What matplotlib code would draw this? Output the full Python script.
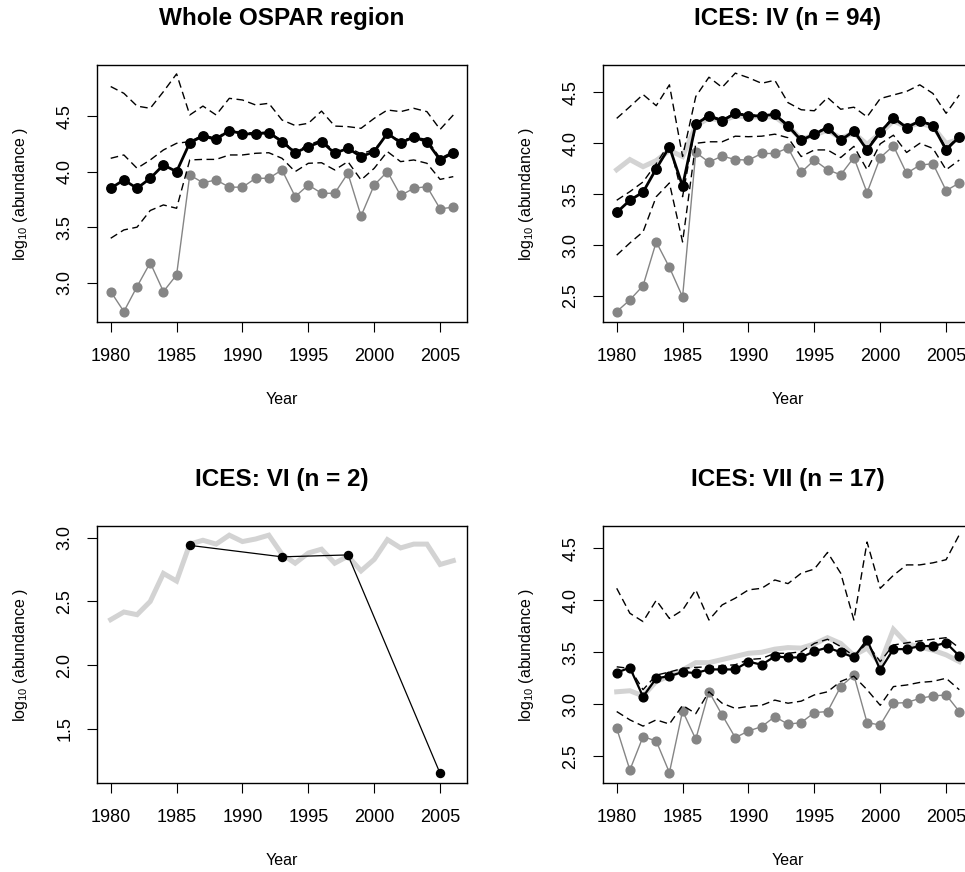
import matplotlib
matplotlib.use('Agg')
import matplotlib.pyplot as plt
import numpy as np

plt.rcParams['font.family'] = ['Liberation Sans', 'DejaVu Sans']
plt.rcParams['mathtext.fontset'] = 'custom'
plt.rcParams['mathtext.rm'] = 'Liberation Sans'
plt.rcParams['mathtext.it'] = 'Liberation Sans:italic'

years = list(range(1980, 2007))
xticks = [1980, 1985, 1990, 1995, 2000, 2005]

# Whole OSPAR region
p1_mean = [3.85, 3.925, 3.85, 3.94, 4.06, 4.00, 4.26, 4.32, 4.29, 4.37, 4.34, 4.34, 4.35, 4.27,
           4.17, 4.225, 4.27, 4.165, 4.21, 4.135, 4.18, 4.345, 4.26, 4.31, 4.27, 4.105, 4.17]
p1_min = [2.92, 2.74, 2.965, 3.18, 2.92, 3.07, 3.97, 3.90, 3.925, 3.86, 3.86, 3.94, 3.94, 4.015,
          3.775, 3.88, 3.805, 3.805, 3.985, 3.60, 3.88, 4.0, 3.785, 3.85, 3.865, 3.665, 3.68]
p1_upper = [4.766, 4.705, 4.59, 4.57, 4.72, 4.88, 4.51, 4.59, 4.51, 4.66, 4.645, 4.60, 4.615, 4.465,
            4.415, 4.435, 4.545, 4.41, 4.405, 4.39, 4.48, 4.555, 4.54, 4.57, 4.54, 4.38, 4.51]
p1_mid = [4.12, 4.15, 4.03, 4.105, 4.195, 4.255, 4.27, 4.33, 4.30, 4.38, 4.35, 4.35, 4.355, 4.28,
          4.18, 4.24, 4.285, 4.18, 4.22, 4.16, 4.20, 4.33, 4.28, 4.31, 4.29, 4.12, 4.18]
p1_lower = [3.40, 3.475, 3.50, 3.65, 3.70, 3.67, 4.105, 4.11, 4.11, 4.15, 4.15, 4.165, 4.17, 4.12,
            4.0, 4.075, 4.08, 4.015, 4.09, 3.925, 4.03, 4.18, 4.09, 4.105, 4.075, 3.93, 3.955]

# ICES: IV
p2_mean = [3.32, 3.44, 3.52, 3.75, 3.965, 3.58, 4.19, 4.27, 4.22, 4.295, 4.27, 4.27, 4.285, 4.17,
           4.03, 4.09, 4.155, 4.03, 4.12, 3.935, 4.11, 4.25, 4.155, 4.22, 4.175, 3.935, 4.065]
p2_min = [2.345, 2.46, 2.60, 3.03, 2.78, 2.49, 3.91, 3.815, 3.875, 3.84, 3.835, 3.90, 3.90, 3.955,
          3.715, 3.835, 3.74, 3.69, 3.86, 3.515, 3.86, 3.975, 3.705, 3.785, 3.80, 3.535, 3.61]
p2_fit = [3.74, 3.84, 3.77, 3.83, 3.93, 3.87, 4.17, 4.25, 4.22, 4.27, 4.26, 4.26, 4.26, 4.17,
          4.04, 4.08, 4.13, 4.05, 4.10, 3.99, 4.10, 4.22, 4.16, 4.20, 4.16, 4.00, 4.04]
p2_upper = [4.245, 4.36, 4.48, 4.37, 4.575, 3.87, 4.46, 4.65, 4.55, 4.69, 4.645, 4.59, 4.62, 4.40,
            4.33, 4.32, 4.45, 4.335, 4.355, 4.26, 4.44, 4.475, 4.51, 4.575, 4.49, 4.295, 4.475]
p2_mid = [3.44, 3.525, 3.62, 3.80, 4.0, 3.475, 4.20, 4.28, 4.23, 4.30, 4.28, 4.275, 4.29, 4.18,
          4.04, 4.10, 4.16, 4.04, 4.13, 3.95, 4.12, 4.26, 4.16, 4.23, 4.18, 3.95, 4.07]
p2_lower = [2.90, 3.02, 3.13, 3.475, 3.61, 3.03, 4.0, 4.015, 4.015, 4.07, 4.065, 4.07, 4.09, 4.055,
            3.87, 3.935, 3.935, 3.86, 3.97, 3.74, 3.995, 4.08, 3.91, 4.0, 3.95, 3.74, 3.835]

# ICES: VI
p3_years = [1986, 1993, 1998, 2005]
p3_mean = [2.94, 2.85, 2.865, 1.15]
p3_fit = [2.357, 2.417, 2.396, 2.50, 2.72, 2.66, 2.95, 2.98, 2.95, 3.02, 2.97, 2.99, 3.02, 2.87,
          2.80, 2.88, 2.91, 2.80, 2.855, 2.74, 2.83, 2.985, 2.92, 2.95, 2.95, 2.79, 2.82]

# ICES: VII
p4_mean = [3.304, 3.352, 3.073, 3.25, 3.27, 3.31, 3.30, 3.335, 3.335, 3.335, 3.41, 3.38, 3.46, 3.45,
           3.45, 3.51, 3.545, 3.50, 3.45, 3.62, 3.33, 3.53, 3.53, 3.56, 3.56, 3.59, 3.465]
p4_min = [2.769, 2.368, 2.689, 2.647, 2.343, 2.936, 2.664, 3.122, 2.897, 2.679, 2.743, 2.785, 2.881,
          2.808, 2.824, 2.92, 2.93, 3.17, 3.28, 2.824, 2.80, 3.01, 3.016, 3.057, 3.08, 3.09, 2.93]
p4_fit = [3.12, 3.13, 3.08, 3.22, 3.27, 3.33, 3.40, 3.40, 3.43, 3.46, 3.49, 3.50, 3.53, 3.545,
          3.54, 3.58, 3.64, 3.585, 3.47, 3.54, 3.39, 3.72, 3.585, 3.55, 3.52, 3.475, 3.41]
p4_upper = [4.115, 3.875, 3.795, 4.0, 3.825, 3.905, 4.10, 3.81, 3.955, 4.02, 4.10, 4.115, 4.195, 4.16,
            4.26, 4.30, 4.46, 4.26, 3.81, 4.56, 4.115, 4.24, 4.34, 4.34, 4.36, 4.39, 4.63]
p4_mid = [3.36, 3.345, 3.14, 3.28, 3.31, 3.345, 3.355, 3.36, 3.37, 3.38, 3.43, 3.44, 3.49, 3.49,
          3.505, 3.585, 3.625, 3.555, 3.465, 3.585, 3.41, 3.57, 3.59, 3.61, 3.625, 3.64, 3.54]
p4_lower = [2.93, 2.85, 2.79, 2.85, 2.81, 2.99, 2.91, 3.12, 3.01, 2.96, 2.98, 2.99, 3.04, 3.01,
            3.03, 3.09, 3.12, 3.22, 3.27, 3.14, 2.99, 3.17, 3.185, 3.21, 3.22, 3.25, 3.14]

W, H = 965, 872
fig = plt.figure(figsize=(W / 100, H / 100), dpi=100)


def make_axes(left, top, right, bottom):
    ax = fig.add_axes([left / W, 1 - bottom / H, (right - left) / W, (bottom - top) / H])
    return ax


def style(ax, title, yticks, ylim):
    ax.set_xlim(1978.96, 2007.04)
    ax.set_ylim(*ylim)
    ax.set_xticks(xticks)
    ax.set_yticks(yticks)
    ax.set_yticklabels(['%.1f' % v for v in yticks])
    for s in ax.spines.values():
        s.set_linewidth(1.0)
    ax.tick_params(axis='both', length=7, width=0.8, labelsize=13, color='black')
    ax.tick_params(axis='x', pad=12)
    ax.tick_params(axis='y', pad=10, labelrotation=90)
    for lab in ax.get_yticklabels():
        lab.set_va('center')
    ax.text(0.5, 1.179, title, transform=ax.transAxes, ha='center', va='center',
            fontsize=17.5, fontweight='bold')
    ax.text(0.5, -0.303, 'Year', transform=ax.transAxes, ha='center', va='center', fontsize=11.5)
    ax.text(-0.207, 0.5, r'log$_{10}$ (abundance )', transform=ax.transAxes, ha='center',
            va='center', rotation=90, fontsize=11.5)


dash = dict(color='black', lw=1.0, dashes=(5.5, 3.2))
lgray = dict(color='#d3d3d3', lw=3.6, solid_joinstyle='miter')
gray = dict(color='#858585', lw=1.0, marker='o', markersize=6.3)

# panel 1
ax1 = make_axes(97, 65, 467, 322)
ax1.plot(years, p1_min, **gray)
ax1.plot(years, p1_mean, color='black', lw=2.0, marker='o', markersize=6.8)
ax1.plot(years, p1_upper, **dash)
ax1.plot(years, p1_mid, **dash)
ax1.plot(years, p1_lower, **dash)
style(ax1, 'Whole OSPAR region', [3.0, 3.5, 4.0, 4.5], (2.646, 4.96))

# panel 2
ax2 = make_axes(603, 65, 973, 322)
ax2.plot(years, p2_fit, **lgray)
ax2.plot(years, p2_min, **gray)
ax2.plot(years, p2_mean, color='black', lw=2.0, marker='o', markersize=6.8)
ax2.plot(years, p2_upper, **dash)
ax2.plot(years, p2_mid, **dash)
ax2.plot(years, p2_lower, **dash)
style(ax2, 'ICES: IV (n = 94)', [2.5, 3.0, 3.5, 4.0, 4.5], (2.243, 4.77))

# panel 3
ax3 = make_axes(97, 526, 467, 783)
ax3.plot(years, p3_fit, **lgray)
ax3.plot(p3_years, p3_mean, color='black', lw=0.9, marker='o', markersize=5.8)
style(ax3, 'ICES: VI (n = 2)', [1.5, 2.0, 2.5, 3.0], (1.075, 3.092))

# panel 4
ax4 = make_axes(603, 526, 973, 783)
ax4.plot(years, p4_fit, **lgray)
ax4.plot(years, p4_min, **gray)
ax4.plot(years, p4_mean, color='black', lw=1.6, marker='o', markersize=6.3)
ax4.plot(years, p4_upper, **dash)
ax4.plot(years, p4_mid, **dash)
ax4.plot(years, p4_lower, **dash)
style(ax4, 'ICES: VII (n = 17)', [2.5, 3.0, 3.5, 4.0, 4.5], (2.243, 4.714))

fig.savefig('out.png', dpi=100)
